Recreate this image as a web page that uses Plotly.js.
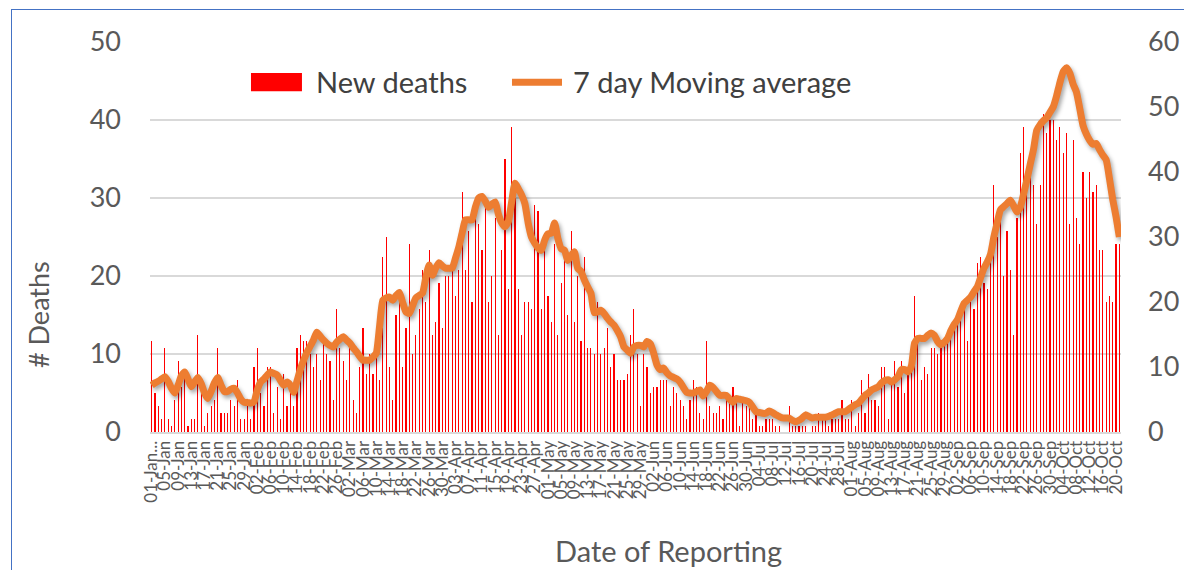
<!DOCTYPE html>
<html>
<head>
<meta charset="utf-8">
<script src="https://cdn.plot.ly/plotly-3.0.1.min.js"></script>
<style>
  html, body { margin:0; padding:0; background:#fff; overflow:hidden; }
  #wrap { position:relative; width:1184px; height:570px; }
  #chart { position:absolute; left:0; top:0; width:1184px; height:570px; }
  #frame { position:absolute; left:11px; top:9px; width:1300px; height:700px; border:1.5px solid #4472C4; pointer-events:none; }
</style>
</head>
<body>
<div id="wrap"><div id="chart"></div><div id="frame"></div></div>
<script>
// Daily reporting dates: 01-Jan to 21-Oct (294 days)
const startDate = Date.UTC(2021, 0, 1);
const nDays = 294;
const monthNames = ["Jan","Feb","Mar","Apr","May","Jun","Jul","Aug","Sep","Oct","Nov","Dec"];
const categories = [];
for (let i = 0; i < nDays; i++) {
  const d = new Date(startDate + i * 86400000);
  categories.push(String(d.getUTCDate()).padStart(2, "0") + "-" + monthNames[d.getUTCMonth()]);
}

// Tick labels (every 4th day)
const tickLabels = [
  "01-Jan...","05-Jan","09-Jan","13-Jan","17-Jan","21-Jan","25-Jan","29-Jan",
  "02-Feb","06-Feb","10-Feb","14-Feb","18-Feb","22-Feb","26-Feb",
  "02-Mar","06-Mar","10-Mar","14-Mar","18-Mar","22-Mar","26-Mar","30-Mar",
  "03-Apr","07-Apr","11-Apr","15-Apr","19-Apr","23-Apr","27-Apr",
  "01-May","05-May","09-May","13-May","17-May","21-May","25-May","29-May",
  "02-Jun","06-Jun","10-Jun","14-Jun","18-Jun","22-Jun","26-Jun","30-Jun",
  "04-Jul","08-Jul","12-Jul","16-Jul","20-Jul","24-Jul","28-Jul",
  "01-Aug","05-Aug","09-Aug","13-Aug","17-Aug","21-Aug","25-Aug","29-Aug",
  "02-Sep","06-Sep","10-Sep","14-Sep","18-Sep","22-Sep","26-Sep","30-Sep",
  "04-Oct","08-Oct","12-Oct","16-Oct","20-Oct"
];
const tickVals = tickLabels.map((_, k) => categories[k * 4]);

// New deaths (right axis, 0-60)
const newDeaths = [
  14,6,4,2,13,2,1,5,11,7,9,1,2,2,15,6,1,3,4,5,13,3,3,3,5,4,8,2,2,4,2,10,13,6,4,10,10,
  3,7,2,9,4,6,4,13,15,14,14,12,10,12,8,14,12,11,5,19,13,11,8,13,5,3,10,16,9,12,9,13,8,27,30,10,5,
  18,20,10,16,29,12,15,19,25,20,28,15,17,23,16,24,24,25,21,25,37,25,31,20,33,32,28,35,20,24,33,15,28,42,22,47,
  36,22,15,20,20,19,35,34,19,28,21,17,29,15,23,28,18,31,17,24,14,27,13,13,12,20,12,13,16,10,12,8,8,8,9,15,19,
  12,4,12,10,6,7,7,8,8,8,4,7,6,5,4,2,5,8,7,3,2,14,4,3,3,4,2,5,5,7,5,1,5,4,4,2,3,
  1,1,2,2,2,1,1,0,0,4,1,1,1,1,1,0,1,1,3,2,2,1,2,2,2,5,2,2,5,1,3,8,3,9,5,5,4,
  10,10,2,8,11,7,11,6,9,10,21,14,8,10,9,13,13,12,13,14,14,15,16,17,18,19,14,20,19,26,27,23,22,29,38,30,35,
  24,31,25,15,33,43,47,37,40,38,32,38,49,46,48,48,45,47,43,46,32,45,33,29,40,36,40,37,38,28,28,20,21,20,29,29
];

// 7 day moving average (left axis, 0-50)
const movingAvg = [
  6.0,6.3,6.5,6.8,7.1,6.5,5.6,5.0,6.0,7.2,7.7,6.8,5.8,6.4,7.0,6.2,5.0,4.3,5.2,6.3,
  7.0,6.0,5.2,5.2,5.5,5.6,5.0,4.2,3.8,3.8,3.7,3.9,5.4,6.4,6.8,7.3,7.7,7.5,7.3,6.6,
  6.0,6.4,6.0,5.1,6.5,8.0,9.2,10.2,11.0,11.8,12.8,12.3,11.8,11.4,11.1,10.9,11.5,11.9,12.2,11.8,
  11.4,10.8,10.3,9.7,9.2,9.2,9.2,9.6,10.1,13.5,16.9,17.2,17.3,16.9,17.5,17.9,16.6,15.4,15.2,16.2,
  17.2,17.5,17.8,19.8,21.4,20.1,21.0,21.7,21.3,21.0,21.0,21.0,22.3,23.7,25.5,27.2,27.2,27.2,28.8,30.0,
  30.2,29.6,28.8,29.2,29.5,27.9,26.8,26.3,27.0,29.5,31.9,31.2,30.4,29.3,26.8,25.0,24.2,23.6,23.3,24.6,
  25.4,25.5,26.8,24.8,23.5,23.3,22.0,22.6,23.1,21.0,20.6,19.5,18.6,17.8,15.3,15.4,15.6,15.2,14.6,14.1,
  13.7,13.0,12.2,10.9,10.5,10.1,10.9,11.1,11.1,10.9,11.6,11.3,10.1,8.6,8.0,8.2,7.6,7.2,7.0,6.8,
  6.4,5.7,5.1,5.0,5.0,5.2,5.4,4.6,5.2,6.0,5.7,5.2,4.7,4.7,4.7,4.2,3.8,4.3,4.2,4.1,
  4.0,3.8,3.2,2.6,2.5,2.4,2.4,2.7,2.5,2.2,2.0,1.8,1.8,1.8,1.5,1.3,1.5,1.8,2.2,2.0,
  1.8,1.9,1.9,1.9,1.9,2.0,2.2,2.4,2.6,2.6,2.6,2.9,3.2,3.5,3.7,4.2,4.7,5.0,5.4,5.6,
  5.8,6.3,6.6,6.7,6.4,6.7,7.1,8.0,8.0,7.7,8.4,11.4,12.0,12.0,12.0,12.4,12.7,12.4,11.6,11.2,
  11.5,12.0,13.0,13.8,14.4,15.5,16.5,16.9,17.3,18.0,18.6,19.8,21.0,21.8,22.8,25.0,26.8,28.5,28.9,29.3,
  29.7,29.0,28.2,28.8,30.5,32.3,34.3,36.2,38.7,39.4,39.9,40.3,41.0,41.7,43.1,44.8,46.2,46.7,46.0,44.6,
  43.6,41.5,39.3,38.2,37.4,36.9,37.0,36.2,35.5,34.9,32.5,29.8,27.6,25.0
];

const FONT = "Lato, 'Open Sans', sans-serif";
const GRAY = "#595959";

const traces = [
  {
    type: "bar", name: "New deaths", x: categories, y: newDeaths, yaxis: "y",
    marker: { color: "#FF0000", line: { width: 0 } }, width: 0.35,
    showlegend: false, hoverinfo: "skip"
  },
  {
    type: "scatter", mode: "lines", name: "7 day Moving average", x: categories, y: movingAvg, yaxis: "y2",
    line: { color: "#ED7D31", width: 7, shape: "spline", smoothing: 0.5 },
    showlegend: false, hoverinfo: "skip", cliponaxis: false
  }
];

const layout = {
  width: 1184, height: 570,
  margin: { l: 150, r: 63, t: 42, b: 138 },
  paper_bgcolor: "#fff", plot_bgcolor: "#fff",
  font: { family: FONT, color: GRAY },
  bargap: 0,
  xaxis: {
    type: "category", range: [-0.5, nDays - 0.5],
    tickmode: "array", tickvals: tickVals, ticktext: tickLabels,
    tickangle: -90, tickfont: { size: 17, color: GRAY, family: FONT },
    showgrid: false, zeroline: false, showline: true, linecolor: "#d9d9d9", linewidth: 2,
    ticks: "", automargin: false, fixedrange: true
  },
  yaxis: {
    side: "right", range: [0, 60], tickmode: "linear", tick0: 0, dtick: 10,
    showgrid: false, zeroline: false, showline: false, ticks: "",
    tickfont: { size: 27, color: GRAY, family: FONT }, ticklabelstandoff: 26,
    automargin: false, fixedrange: true
  },
  yaxis2: {
    overlaying: "y", side: "left", range: [0, 50], tickmode: "linear", tick0: 0, dtick: 10,
    showgrid: true, gridcolor: "#d9d9d9", gridwidth: 1.5, zeroline: false, showline: false, ticks: "",
    tickfont: { size: 27, color: GRAY, family: FONT }, ticklabelstandoff: 28,
    automargin: false, fixedrange: true
  },
  annotations: [
    { text: "# Deaths", xref: "paper", yref: "paper", x: -0.1153, y: 0.30, textangle: -90,
      showarrow: false, xanchor: "center", yanchor: "middle", font: { size: 27, color: GRAY, family: FONT } },
    { text: "Date of Reporting", xref: "paper", yref: "paper", x: 0.5335, y: -0.305,
      showarrow: false, xanchor: "center", yanchor: "middle", font: { size: 29, color: GRAY, family: FONT } },
    { text: "New deaths", xref: "paper", yref: "paper", x: 0.1685, y: 0.899,
      showarrow: false, xanchor: "left", yanchor: "middle", font: { size: 29, color: "#404040", family: FONT } },
    { text: "7 day Moving average", xref: "paper", yref: "paper", x: 0.4336, y: 0.899,
      showarrow: false, xanchor: "left", yanchor: "middle", font: { size: 29, color: "#404040", family: FONT } }
  ],
  shapes: [
    { type: "rect", xref: "paper", yref: "paper", x0: 0.104, x1: 0.1565, y0: 0.874, y1: 0.9205,
      fillcolor: "#FF0000", line: { width: 0 } },
    { type: "line", xref: "paper", yref: "paper", x0: 0.3728, x1: 0.4243, y0: 0.897, y1: 0.897,
      line: { color: "#ED7D31", width: 7 } }
  ]
};

Plotly.newPlot("chart", traces, layout, { staticPlot: true, displayModeBar: false }).then(() => {
  document.querySelectorAll("#chart .scatterlayer .js-line").forEach(p => {
    p.style.filter = "drop-shadow(2px 3px 2px rgba(0,0,0,0.35))";
  });
});
</script>
</body>
</html>
